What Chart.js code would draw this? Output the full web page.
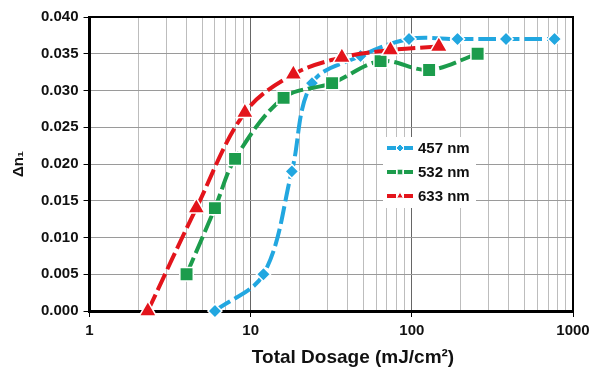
<!DOCTYPE html>
<html>
<head>
<meta charset="utf-8">
<script src="https://cdn.jsdelivr.net/npm/chart.js@4.4.1/dist/chart.umd.min.js"></script>
<style>
  html, body { margin: 0; padding: 0; background: #fff; }
  #wrap { width: 600px; height: 369px; }
</style>
</head>
<body>
<div id="wrap"><canvas id="dosage-chart" width="600" height="369"></canvas></div>
<script>
const dosageCanvas = document.getElementById("dosage-chart");

// DATA
const blueX  = [6, 12, 18, 24, 48, 96, 192, 384, 768];
const blueY  = [0.000, 0.005, 0.019, 0.031, 0.0347, 0.037, 0.037, 0.037, 0.037];
const greenX = [4, 6, 8, 16, 32, 64, 128, 256];
const greenY = [0.005, 0.014, 0.0207, 0.029, 0.031, 0.034, 0.0328, 0.035];
const redX   = [2.3, 4.6, 9.2, 18.4, 36.8, 73.6, 147];
const redY   = [0.000, 0.014, 0.027, 0.0322, 0.0345, 0.0355, 0.036];

const xTicks = [1, 10, 100, 1000];
const yTicks = [0, 0.005, 0.010, 0.015, 0.020, 0.025, 0.030, 0.035, 0.040];
const xTitle = 'Total Dosage (mJ/cm²)';

const FONT = "'Liberation Sans', Arial, sans-serif";
const toPoints = (xs, ys) => xs.map((x, i) => ({ x: x, y: ys[i] }));

// log grid: decades + minor lines 2..9
const logGrid = [];
for (let d = 1; d < 1000; d *= 10) {
  for (let k = 1; k < 10; k++) logGrid.push(d * k);
}
logGrid.push(1000);

const series = (label, xs, ys, color, style, radius, order) => ({
  label: label,
  data: toPoints(xs, ys),
  borderColor: color,
  backgroundColor: color,
  borderWidth: 4,
  borderDash: [18, 5],
  tension: 0.35,
  pointStyle: style,
  pointRadius: radius,
  pointHoverRadius: radius,
  pointBackgroundColor: color,
  pointBorderColor: '#fff',
  pointBorderWidth: 1.5,
  clip: false,
  order: order
});

const dosageData = {
  datasets: [
    series('457 nm', blueX, blueY, '#22a7e0', 'rectRot', 7, 3),
    series('532 nm', greenX, greenY, '#1c9c4c', 'rect', 9.5, 2),
    series('633 nm', redX, redY, '#e3141b', 'triangle', 10, 1)
  ]
};

// top/right frame of the plot + x axis title
const framePlugin = {
  id: 'frame',
  afterDraw(chart) {
    const { ctx, chartArea: a } = chart;
    ctx.save();
    ctx.strokeStyle = '#000';
    ctx.lineWidth = 2;
    ctx.beginPath();
    ctx.moveTo(a.left, a.top);
    ctx.lineTo(a.right, a.top);
    ctx.lineTo(a.right, a.bottom);
    ctx.stroke();

    // title sits a bit right of centre in the original
    ctx.fillStyle = '#111';
    ctx.font = "bold 19px " + FONT;
    ctx.textAlign = 'center';
    ctx.textBaseline = 'middle';
    ctx.fillText(xTitle, 353, 358);
    ctx.restore();
  }
};

// legend box sitting inside the plot
const insideLegend = {
  id: 'insideLegend',
  afterDatasetsDraw(chart) {
    const ctx = chart.ctx;
    ctx.save();
    ctx.fillStyle = '#fff';
    ctx.fillRect(383, 137, 93, 71);
    chart.data.datasets.forEach((ds, i) => {
      const y = 148 + i * 24;
      ctx.strokeStyle = ds.borderColor;
      ctx.lineWidth = 4;
      ctx.setLineDash([]);
      ctx.beginPath();
      ctx.moveTo(387, y); ctx.lineTo(396, y);
      ctx.moveTo(404, y); ctx.lineTo(413, y);
      ctx.stroke();
      ctx.fillStyle = ds.borderColor;
      ctx.strokeStyle = '#fff';
      ctx.lineWidth = 1;
      Chart.helpers.drawPoint(ctx, { pointStyle: ds.pointStyle, radius: 4, rotation: 0, borderWidth: 1 }, 400, y);
      ctx.fillStyle = '#111';
      ctx.font = "bold 15px " + FONT;
      ctx.textBaseline = 'middle';
      ctx.fillText(ds.label, 418, y + 1);
    });
    ctx.restore();
  }
};

const dosageOptions = {
  responsive: false,
  animation: false,
  devicePixelRatio: 1,
  layout: { padding: { top: 17, right: 27, bottom: 24, left: 10 } },
  plugins: {
    legend: { display: false },
    tooltip: { enabled: false }
  },
  scales: {
    x: {
      type: 'logarithmic',
      min: 1,
      max: 1000,
      afterBuildTicks: axis => { axis.ticks = logGrid.map(v => ({ value: v })); },
      ticks: {
        autoSkip: false,
        maxRotation: 0,
        padding: 5,
        color: '#111',
        font: { family: FONT, size: 15, weight: 'bold' },
        callback: v => xTicks.includes(v) ? String(v) : ''
      },
      grid: {
        color: c => xTicks.includes(c.tick && c.tick.value) ? '#666' : '#bdbdbd',
        tickColor: c => xTicks.includes(c.tick && c.tick.value) ? '#000' : 'rgba(0,0,0,0)',
        tickLength: 6,
        lineWidth: 1
      },
      border: { color: '#000', width: 3 }
    },
    y: {
      min: 0,
      max: 0.04,
      afterBuildTicks: axis => { axis.ticks = yTicks.map(v => ({ value: v })); },
      ticks: {
        padding: 5,
        color: '#111',
        font: { family: FONT, size: 15, weight: 'bold' },
        callback: v => v.toFixed(3)
      },
      grid: {
        color: '#9a9a9a',
        tickColor: '#000',
        tickLength: 6,
        lineWidth: 1
      },
      border: { color: '#000', width: 3 },
      title: {
        display: true,
        text: 'Δn₁',
        color: '#111',
        font: { family: FONT, size: 15, weight: 'bold' },
        padding: { top: 0, bottom: 8 }
      }
    }
  }
};

let dosageChart = new Chart(dosageCanvas, {
  type: 'line',
  data: dosageData,
  options: dosageOptions,
  plugins: [framePlugin, insideLegend]
});
</script>
</body>
</html>
